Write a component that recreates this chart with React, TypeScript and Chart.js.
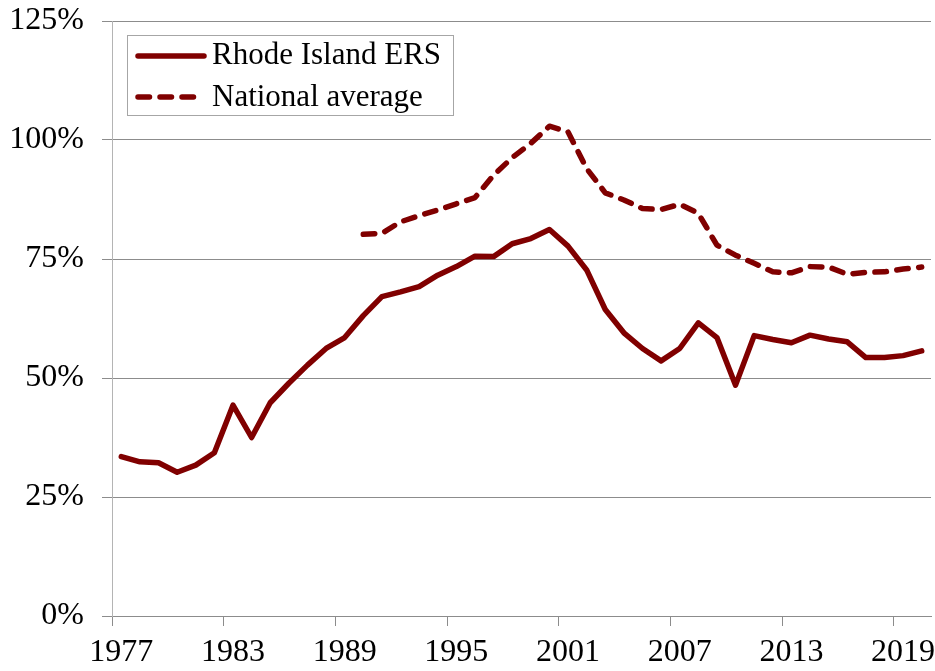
import React, { useEffect, useRef } from "react";
import { Chart, registerables } from "chart.js";

Chart.register(...registerables);

const years: string[] = [
  "1977", "1978", "1979", "1980", "1981", "1982", "1983", "1984", "1985", "1986",
  "1987", "1988", "1989", "1990", "1991", "1992", "1993", "1994", "1995", "1996",
  "1997", "1998", "1999", "2000", "2001", "2002", "2003", "2004", "2005", "2006",
  "2007", "2008", "2009", "2010", "2011", "2012", "2013", "2014", "2015", "2016",
  "2017", "2018", "2019", "2020",
];

const rhodeIsland: number[] = [
  33.5, 32.4, 32.2, 30.2, 31.7, 34.3, 44.3, 37.5, 44.8, 48.9,
  52.7, 56.2, 58.5, 63.1, 67.1, 68.1, 69.2, 71.6, 73.4, 75.6,
  75.5, 78.2, 79.3, 81.2, 77.7, 72.7, 64.4, 59.5, 56.2, 53.6,
  56.2, 61.6, 58.5, 48.5, 58.9, 58.1, 57.4, 59.0, 58.2, 57.6,
  54.3, 54.3, 54.7, 55.7,
];

const nationalAverage: (number | null)[] = [
  null, null, null, null, null, null, null, null, null, null,
  null, null, null, 80.2, 80.4, 82.8, 84.1, 85.3, 86.6, 87.9,
  92.6, 96.3, 99.3, 102.9, 101.7, 94.0, 88.9, 87.4, 85.6, 85.4,
  86.5, 84.6, 77.9, 75.8, 74.1, 72.3, 72.1, 73.4, 73.3, 71.8,
  72.2, 72.3, 72.9, 73.3,
];

const seriesNames: string[] = ["Rhode Island ERS", "National average"];
const yTicks: number[] = [0, 25, 50, 75, 100, 125];

const FONT = "'Liberation Serif', 'Times New Roman', serif";
const RED = "#800000";
const GRID = "#8c8c8c";

const legendPlugin = {
  id: "boxLegend",
  afterDatasetsDraw(chart: any) {
    const ctx = chart.ctx;
    ctx.save();
    ctx.strokeStyle = "#a6a6a6";
    ctx.lineWidth = 1;
    ctx.strokeRect(127.5, 35.5, 326, 80);
    const rows = [
      { y: 56, ty: 64, dash: [] as number[] },
      { y: 97, ty: 106, dash: [11.5, 10.5] },
    ];
    rows.forEach((r, i) => {
      ctx.beginPath();
      ctx.strokeStyle = RED;
      ctx.lineWidth = 5.5;
      ctx.lineCap = "round";
      ctx.setLineDash(r.dash);
      ctx.moveTo(138, r.y);
      ctx.lineTo(204, r.y);
      ctx.stroke();
      ctx.setLineDash([]);
      ctx.fillStyle = "#000";
      ctx.font = `31px ${FONT}`;
      ctx.textBaseline = "alphabetic";
      ctx.textAlign = "left";
      ctx.fillText(seriesNames[i], 212, r.ty);
    });
    ctx.restore();
  },
};

export default function App() {
  const ref = useRef<HTMLCanvasElement>(null);
  useEffect(() => {
    if (!ref.current) return;
    const chart = new Chart(ref.current, {
      type: "line",
      data: {
        labels: years,
        datasets: [
          {
            label: seriesNames[0],
            data: rhodeIsland,
            borderColor: RED,
            backgroundColor: RED,
            borderWidth: 5.5,
            pointRadius: 0,
            tension: 0,
            borderJoinStyle: "round",
            borderCapStyle: "round",
          },
          {
            label: seriesNames[1],
            data: nationalAverage,
            borderColor: RED,
            backgroundColor: RED,
            borderWidth: 5.5,
            borderDash: [11.5, 10.5],
            pointRadius: 0,
            tension: 0,
            borderJoinStyle: "round",
            borderCapStyle: "round",
          },
        ],
      },
      options: {
        animation: false,
        responsive: false,
        maintainAspectRatio: false,
        layout: { padding: { top: 21, right: 4, left: 0, bottom: 0 } },
        plugins: { legend: { display: false }, tooltip: { enabled: false } },
        scales: {
          x: {
            type: "category",
            offset: true,
            grid: {
              offset: true,
              drawOnChartArea: false,
              drawTicks: true,
              tickLength: 10,
              color: (c: any) => (c.index % 6 === 0 ? GRID : "rgba(0,0,0,0)"),
              lineWidth: 1,
            },
            border: { color: GRID, width: 1 },
            ticks: {
              autoSkip: false,
              maxRotation: 0,
              minRotation: 0,
              padding: 7,
              color: "#000",
              font: { family: FONT, size: 32 },
              callback: (_v: any, i: number) => (i % 6 === 0 ? years[i] : ""),
            },
            afterFit: (s: any) => {
              s.height = 55;
              s.paddingLeft = 0;
              s.paddingRight = 0;
            },
          },
          y: {
            min: 0,
            max: 125,
            afterBuildTicks: (s: any) => {
              s.ticks = yTicks.map((v) => ({ value: v }));
            },
            grid: {
              color: GRID,
              lineWidth: 1,
              tickLength: 10,
              drawTicks: true,
            },
            border: { color: "#b4b4b4", width: 1 },
            ticks: {
              padding: 18,
              color: "#000",
              font: { family: FONT, size: 32 },
              callback: (v: any) => `${v}%`,
            },
            afterFit: (s: any) => {
              s.width = 112;
              s.paddingTop = 0;
              s.paddingBottom = 0;
            },
          },
        },
      },
      plugins: [legendPlugin],
    });
    return () => chart.destroy();
  }, []);
  return (
    <div style={{ position: "fixed", left: 0, top: 0, width: 935, height: 671, background: "#fff" }}>
      <canvas ref={ref} width={935} height={671} style={{ width: 935, height: 671 }} />
    </div>
  );
}
